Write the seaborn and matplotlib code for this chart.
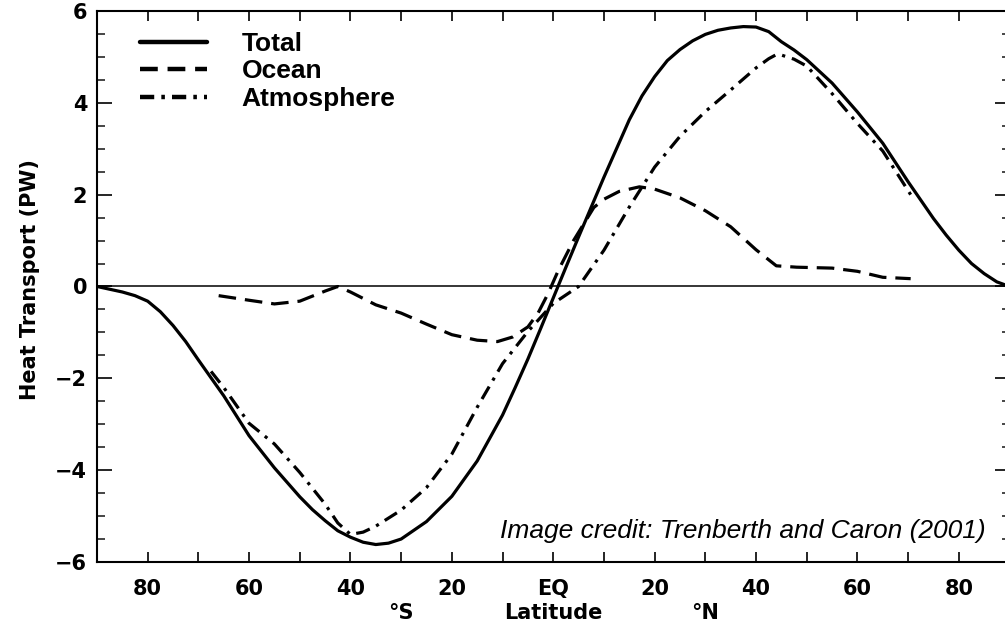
import numpy as np
import pandas as pd
import matplotlib
matplotlib.use('Agg')
import matplotlib.pyplot as plt
import matplotlib.transforms as mtransforms
from matplotlib.lines import Line2D
from matplotlib.ticker import MultipleLocator
import seaborn as sns

# data (latitude in degrees, heat transport in PW)
total_lat = [-90, -85, -82.5, -80, -77.5, -75, -72.5, -70, -65, -60, -55, -50, -47.5,
             -45, -42.5, -40, -37.5, -35, -32.5, -30, -25, -20, -15, -10, -7.5, -5,
             -2.5, 0, 2.5, 5, 10, 15, 17.5, 20, 22.5, 25, 27.5, 30, 32.5, 35, 37.5, 40,
             42.5, 45, 47.5, 50, 55, 60, 65, 70, 75, 77.5, 80, 82.5, 85, 87.5, 90]
total_pw = [0.0, -0.12, -0.2, -0.32, -0.55, -0.85, -1.2, -1.6, -2.38, -3.25, -3.95,
            -4.58, -4.86, -5.1, -5.32, -5.46, -5.57, -5.62, -5.59, -5.5, -5.12, -4.57,
            -3.8, -2.8, -2.2, -1.58, -0.92, -0.25, 0.42, 1.08, 2.38, 3.63, 4.15, 4.57,
            4.92, 5.16, 5.35, 5.49, 5.58, 5.63, 5.66, 5.65, 5.55, 5.33, 5.15, 4.94,
            4.43, 3.8, 3.12, 2.28, 1.48, 1.12, 0.79, 0.5, 0.28, 0.1, 0.0]

ocean_lat = [-66, -60, -55, -50, -45, -42.5, -40, -35, -30, -25, -20, -15, -11, -8,
             -5, -3, -1, 1, 4, 8, 10, 13, 17, 20, 25, 30, 35, 40, 44, 48, 55, 60, 65,
             70.5]
ocean_pw = [-0.2, -0.3, -0.38, -0.32, -0.1, 0.0, -0.12, -0.4, -0.58, -0.82, -1.05,
            -1.17, -1.2, -1.1, -0.88, -0.58, -0.15, 0.35, 1.0, 1.72, 1.9, 2.07, 2.17,
            2.12, 1.93, 1.65, 1.3, 0.8, 0.45, 0.42, 0.4, 0.33, 0.2, 0.17]

atmos_lat = [-67.5, -65, -60, -55, -50, -45, -42.5, -40, -37.5, -35, -30, -25, -20,
             -15, -10, -5, 0, 5, 10, 15, 20, 25, 30, 35, 40, 42.5, 44, 45, 47.5, 50,
             55, 60, 65, 70.5]
atmos_pw = [-1.85, -2.2, -2.98, -3.43, -4.05, -4.74, -5.15, -5.4, -5.35, -5.22,
            -4.87, -4.38, -3.65, -2.63, -1.68, -0.98, -0.37, 0.0, 0.79, 1.73, 2.6,
            3.27, 3.81, 4.28, 4.76, 4.96, 5.05, 5.04, 4.95, 4.8, 4.2, 3.55, 2.95, 2.0]

lat_ticks = [-80, -70, -60, -50, -40, -30, -20, -10, 0, 10, 20, 30, 40, 50, 60, 70, 80]
lat_labels = ['80', '', '60', '', '40', '', '20', '', 'EQ', '', '20', '', '40', '',
              '60', '', '80']
pw_ticks = [-6, -4, -2, 0, 2, 4, 6]

sns.set_theme(style='white')
plt.rcParams['font.family'] = ['DejaVu Sans']

fig = plt.figure(figsize=(10.05, 6.27), dpi=100)
ax = fig.add_axes([0.0965, 0.1037, 0.908, 0.8788])

line_w = 2.3
solid = '-'
dashed = (0, (5.5, 2.8))
dashdot = (0, (4.5, 2.2, 1.0, 2.2))

df_total = pd.DataFrame({'lat': total_lat, 'pw': total_pw})
df_ocean = pd.DataFrame({'lat': ocean_lat, 'pw': ocean_pw})
df_atmos = pd.DataFrame({'lat': atmos_lat, 'pw': atmos_pw})

ax.axhline(0, color='black', lw=1.1, zorder=1)
sns.lineplot(data=df_total, x='lat', y='pw', ax=ax, color='black', lw=line_w,
             linestyle=solid, sort=False)
sns.lineplot(data=df_ocean, x='lat', y='pw', ax=ax, color='black', lw=line_w,
             linestyle=dashed, sort=False)
sns.lineplot(data=df_atmos, x='lat', y='pw', ax=ax, color='black', lw=line_w,
             linestyle=dashdot, sort=False)

ax.set_xlim(-90, 90)
ax.set_ylim(-6, 6)

for s in ax.spines.values():
    s.set_linewidth(1.5)
    s.set_color('black')

ax.set_xticks(lat_ticks)
ax.set_xticklabels(lat_labels)
ax.set_yticks(pw_ticks)
ax.yaxis.set_minor_locator(MultipleLocator(0.5))
ax.tick_params(axis='x', which='major', direction='in', length=7, width=1.2,
               top=True, bottom=True, pad=12, labelsize=15, colors='black')
ax.tick_params(axis='y', which='major', direction='in', length=11, width=1.2,
               left=True, right=True, pad=7, labelsize=15, colors='black')
ax.tick_params(axis='y', which='minor', direction='in', length=6, width=1.2,
               left=True, right=True)
for lab in ax.get_xticklabels() + ax.get_yticklabels():
    lab.set_fontweight('bold')

ax.set_xlabel('Latitude', fontsize=15, fontweight='bold', color='black')
ax.xaxis.set_label_coords(0.5, -0.075)
ax.xaxis.label.set_va('top')
ax.set_ylabel('Heat Transport (PW)', fontsize=15, fontweight='bold', color='black')
ax.yaxis.set_label_coords(-0.062, 0.512)

trans = mtransforms.blended_transform_factory(ax.transData, ax.transAxes)
ax.text(-30, -0.075, '°S', transform=trans, ha='center', va='top', fontsize=15,
        fontweight='bold', color='black')
ax.text(30, -0.075, '°N', transform=trans, ha='center', va='top', fontsize=15,
        fontweight='bold', color='black')

handles = [Line2D([], [], color='black', lw=3.2, linestyle=solid),
           Line2D([], [], color='black', lw=3.2, linestyle=(0, (4.0, 2.2))),
           Line2D([], [], color='black', lw=3.2, linestyle=(0, (3.2, 1.6, 0.8, 1.6)))]
leg = ax.legend(handles, ['Total', 'Ocean', 'Atmosphere'], loc='upper left',
                bbox_to_anchor=(0.047, 0.962), frameon=False, borderpad=0,
                borderaxespad=0, handlelength=2.55, handletextpad=1.3,
                labelspacing=0.13, labelcolor='black',
                prop={'family': 'Liberation Sans', 'weight': 'bold', 'size': 19})

ax.text(0.974, 0.057, 'Image credit: Trenberth and Caron (2001)', transform=ax.transAxes,
        ha='right', va='center', fontsize=19, fontstyle='italic',
        family='Liberation Sans', color='black')

fig.savefig('out.png', dpi=100, facecolor='white')
